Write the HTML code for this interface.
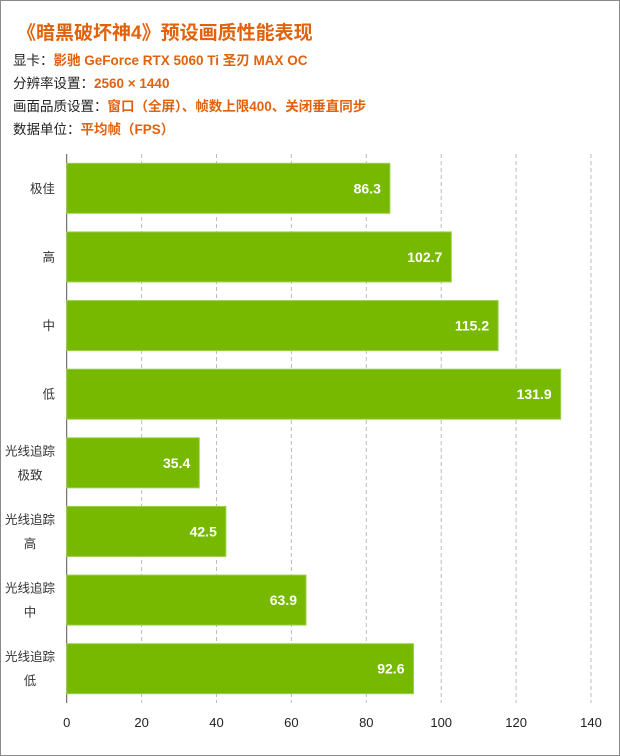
<!DOCTYPE html>
<html><head><meta charset="utf-8"><style>
body{margin:0;background:#fff;font-family:"Liberation Sans","Noto Sans CJK SC",sans-serif}
#wrap{position:relative;width:620px;height:756px;overflow:hidden}
</style></head><body>
<div id="wrap">
<svg id="svg" width="620" height="756" xmlns="http://www.w3.org/2000/svg">
<rect x="0.5" y="0.5" width="619" height="755" fill="#fff" stroke="#8a8a8a" stroke-width="1"/>
<text x="17" y="39" font-size="19" font-weight="bold" fill="#e0620d" font-family="Liberation Sans, Noto Sans CJK SC, sans-serif">《暗黑破坏神4》预设画质性能表现</text>
<g font-size="13.5" font-family="Liberation Sans, Noto Sans CJK SC, sans-serif">
<text x="13" y="65"><tspan fill="#222">显卡：</tspan><tspan fill="#e0620d" font-weight="bold">影驰 GeForce RTX 5060 Ti 圣刃 MAX OC</tspan></text>
<text x="13" y="88"><tspan fill="#222">分辨率设置：</tspan><tspan fill="#e0620d" font-weight="bold">2560 × 1440</tspan></text>
<text x="13" y="111"><tspan fill="#222">画面品质设置：</tspan><tspan fill="#e0620d" font-weight="bold">窗口（全屏）、帧数上限400、关闭垂直同步</tspan></text>
<text x="13" y="134"><tspan fill="#222">数据单位：</tspan><tspan fill="#e0620d" font-weight="bold">平均帧（FPS）</tspan></text>
</g>
<g id="grid"></g><g id="bars"></g><g id="labels"></g>
</svg>
</div>
<script>
const categories = [["极佳"],["高"],["中"],["低"],["光线追踪","极致"],["光线追踪","高"],["光线追踪","中"],["光线追踪","低"]];
const fpsValues = [86.3,102.7,115.2,131.9,35.4,42.5,63.9,92.6];
const tickValues = [0,20,40,60,80,100,120,140];
const NS="http://www.w3.org/2000/svg";
const x0=66.7, xMax=140, x1=591, plotTop=154, plotBottom=703;
const band=(plotBottom-plotTop)/categories.length, barH=50;
function xs(v){return x0+(v/xMax)*(x1-x0);}
function yb(i){return plotTop+i*band+(band-barH)/2;}
function mk(tag,attrs,parent){const e=document.createElementNS(NS,tag);for(const k in attrs)e.setAttribute(k,attrs[k]);parent.appendChild(e);return e;}
const grid=document.getElementById('grid'),bars=document.getElementById('bars'),labels=document.getElementById('labels');
tickValues.forEach((t,i)=>{
  if(t>0){const l=mk('line',{x1:xs(t),x2:xs(t),y1:plotTop,y2:plotBottom,stroke:'#bbb','stroke-dasharray':'4,3'},grid);
  
  }
  const tx=mk('text',{x:xs(t),y:727,'text-anchor':'middle','font-size':13,fill:'#222'},grid);
  tx.textContent=t;
  
  
});
const ax=mk('line',{x1:x0,x2:x0,y1:plotTop,y2:plotBottom,stroke:'#555','stroke-width':1},grid);


categories.forEach((c,i)=>{
  const y=yb(i), v=fpsValues[i];
  const r=mk('rect',{x:x0,y:y,width:xs(v)-x0,height:barH,fill:'#76b900',stroke:'#9bd04a','stroke-width':1},bars);
  
  
  const vt=mk('text',{x:xs(v)-9,y:y+barH/2+5,'text-anchor':'end','font-size':14,'font-weight':'bold',fill:'#fff'},labels);
  vt.textContent=v.toFixed(1);
  
  
  const maxLen=Math.max(...c.map(s=>s.length));
  const cx=55-maxLen*12.5/2;
  const cy=y+barH/2;
  c.forEach((s,j)=>{
    const ty=cy+4.5+(j-(c.length-1)/2)*24;
    const t=mk('text',{x:cx,y:ty,'text-anchor':'middle','font-size':12.5,fill:'#333'},labels);
    t.textContent=s;
    
    
  });
});
</script>
</body></html>
